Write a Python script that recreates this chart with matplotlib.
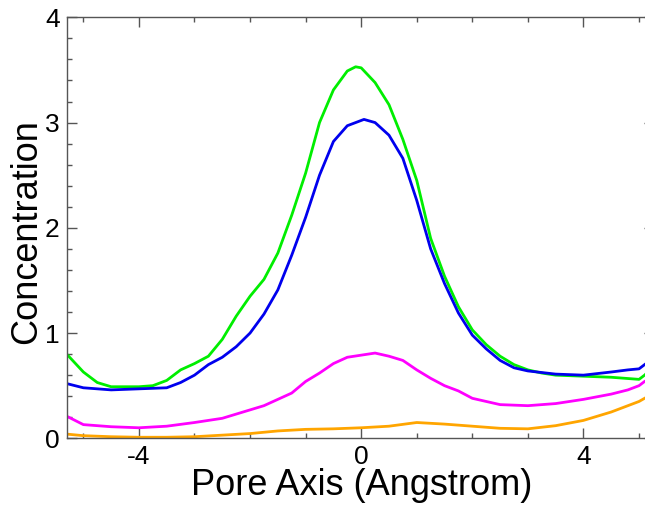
import matplotlib.pyplot as plt
from matplotlib.ticker import MultipleLocator

# pore axis positions (Angstrom) and concentration profiles
x_green = [-5.3, -5.0, -4.75, -4.5, -4.0, -3.75, -3.5, -3.25, -3.0, -2.75, -2.5, -2.25, -2.0,
           -1.75, -1.5, -1.25, -1.0, -0.75, -0.5, -0.25, -0.1, 0.0, 0.25, 0.5, 0.75, 1.0,
           1.25, 1.5, 1.75, 2.0, 2.25, 2.5, 2.75, 3.0, 3.25, 3.5, 4.0, 4.5, 5.0, 5.1, 5.2]
y_green = [0.80, 0.63, 0.53, 0.49, 0.49, 0.50, 0.55, 0.65, 0.71, 0.78, 0.94, 1.16, 1.35,
           1.51, 1.76, 2.12, 2.52, 3.00, 3.31, 3.49, 3.53, 3.52, 3.38, 3.17, 2.84, 2.45,
           1.90, 1.54, 1.25, 1.03, 0.89, 0.78, 0.70, 0.65, 0.62, 0.60, 0.59, 0.58, 0.56, 0.60, 0.65]

x_blue = [-5.3, -5.0, -4.5, -4.0, -3.5, -3.25, -3.0, -2.75, -2.5, -2.25, -2.0, -1.75, -1.5,
          -1.25, -1.0, -0.75, -0.5, -0.25, 0.05, 0.25, 0.5, 0.75, 1.0, 1.25, 1.5, 1.75,
          2.0, 2.25, 2.5, 2.75, 3.0, 3.5, 4.0, 4.5, 4.8, 5.0, 5.1, 5.2]
y_blue = [0.52, 0.48, 0.46, 0.47, 0.48, 0.53, 0.60, 0.70, 0.77, 0.87, 1.00, 1.18, 1.41,
          1.74, 2.10, 2.50, 2.82, 2.97, 3.03, 3.00, 2.88, 2.66, 2.26, 1.80, 1.47, 1.19,
          0.98, 0.85, 0.74, 0.67, 0.64, 0.61, 0.60, 0.63, 0.65, 0.66, 0.70, 0.74]

x_magenta = [-5.3, -5.0, -4.5, -4.0, -3.5, -3.0, -2.5, -2.0, -1.75, -1.5, -1.25, -1.0, -0.75,
             -0.5, -0.25, 0.0, 0.25, 0.5, 0.75, 1.0, 1.25, 1.5, 1.75, 2.0, 2.5, 3.0, 3.5,
             4.0, 4.5, 4.8, 5.0, 5.1, 5.2]
y_magenta = [0.21, 0.13, 0.11, 0.10, 0.115, 0.15, 0.19, 0.27, 0.31, 0.37, 0.43, 0.54, 0.62,
             0.71, 0.77, 0.79, 0.81, 0.78, 0.74, 0.65, 0.57, 0.50, 0.45, 0.38, 0.32, 0.31, 0.33,
             0.37, 0.42, 0.46, 0.50, 0.54, 0.57]

x_orange = [-5.3, -5.0, -4.5, -4.0, -3.5, -3.0, -2.5, -2.0, -1.5, -1.0, -0.5, 0.0, 0.5,
            1.0, 1.5, 2.0, 2.5, 3.0, 3.5, 4.0, 4.5, 5.0, 5.2]
y_orange = [0.04, 0.025, 0.015, 0.01, 0.01, 0.015, 0.03, 0.045, 0.07, 0.085, 0.09, 0.10, 0.115,
            0.15, 0.135, 0.115, 0.095, 0.09, 0.12, 0.17, 0.25, 0.35, 0.41]

plt.rcParams['font.family'] = ['Liberation Sans', 'DejaVu Sans']
plt.rcParams['axes.unicode_minus'] = False

fig = plt.figure(figsize=(6.45, 5.08), dpi=100)
# right spine sits just past the picture edge, as in the original export
ax = fig.add_axes([0.1034, 0.1372, 0.9106, 0.8287])

ax.plot(x_green, y_green, color='#00ee00', lw=2.0)
ax.plot(x_blue, y_blue, color='#0000ee', lw=2.0)
ax.plot(x_magenta, y_magenta, color='#ff00ff', lw=2.0)
ax.plot(x_orange, y_orange, color='#ffa500', lw=2.0)

ax.set_xlim(-5.3, 5.27)
ax.set_ylim(0, 4)
ax.xaxis.set_major_locator(MultipleLocator(4))
ax.xaxis.set_minor_locator(MultipleLocator(1))
ax.yaxis.set_major_locator(MultipleLocator(1))
ax.yaxis.set_minor_locator(MultipleLocator(0.2))

for s in ax.spines.values():
    s.set_color('#555555')
    s.set_linewidth(1.0)
ax.tick_params(which='both', direction='in', top=True, right=True, color='#555555', width=1.0)
ax.tick_params(which='major', length=7.2, labelsize=19)
ax.tick_params(which='minor', length=3.6)
ax.tick_params(axis='x', pad=5)
ax.tick_params(axis='y', pad=5)

fig.text(362 / 645, 1 - 495 / 508, 'Pore Axis (Angstrom)', ha='center', va='baseline', fontsize=26)
ax.set_ylabel('Concentration', fontsize=26)
ax.yaxis.set_label_coords(-0.038, 0.49)

plt.savefig('out.png', dpi=100)
